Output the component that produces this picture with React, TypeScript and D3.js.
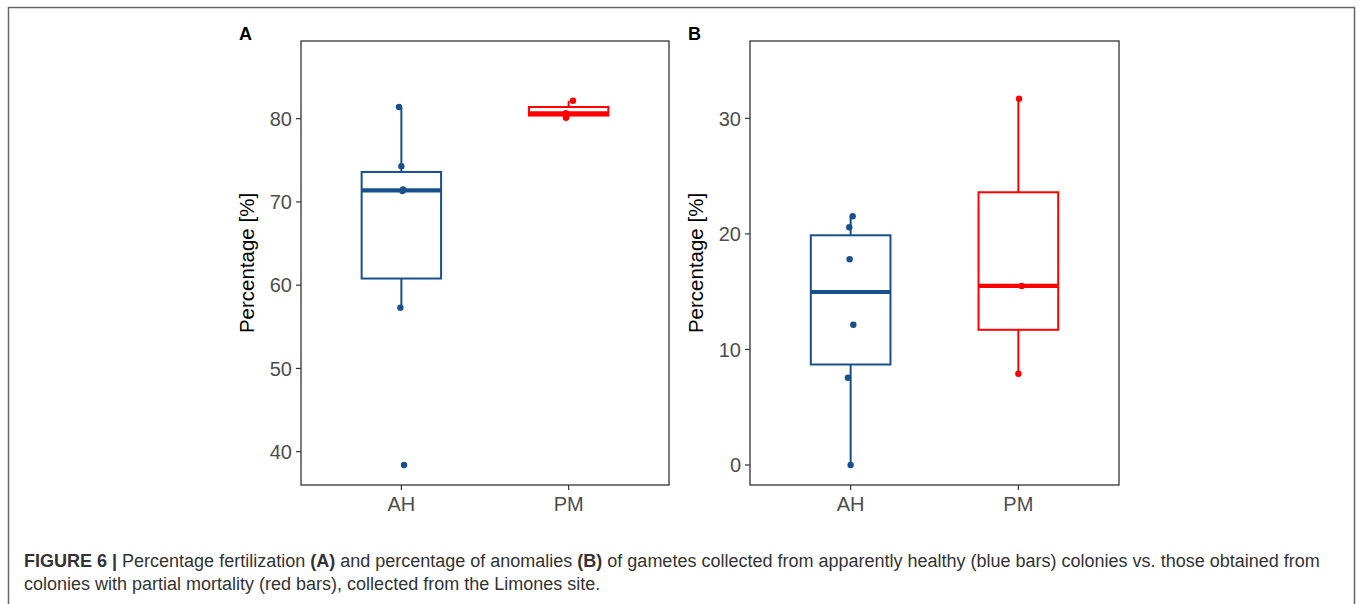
import React from "react";
import * as d3 from "d3";

// ---- data ----
const categories = ["AH", "PM"];
const fertilAH = [38.4, 57.3, 71.3, 71.5, 74.3, 81.4];
const fertilPM = [80.1, 80.65, 82.15];
const anomAH = [0, 7.55, 12.14, 17.8, 20.57, 21.52];
const anomPM = [7.9, 15.5, 31.7];
// horizontal jitter of the points, in category units
const jitterFertilAH = [0.016, -0.006, 0.006, 0.01, 0, -0.014];
const jitterFertilPM = [-0.016, -0.016, 0.026];
const jitterAnomAH = [0, -0.016, 0.016, -0.006, -0.008, 0.012];
const jitterAnomPM = [0, 0.02, 0.004];
const ticksA = [40, 50, 60, 70, 80];
const ticksB = [0, 10, 20, 30];
const domainA: [number, number] = [36.0, 89.33];
const domainB: [number, number] = [-1.73, 36.69];
const groupColors = ["#18508E", "#FF0000"];

const FONT = "'Liberation Sans', Arial, Helvetica, sans-serif";

type Group = { values: number[]; jitter: number[] };

function stats(values: number[]) {
  const s = [...values].sort((a, b) => a - b);
  const q1 = d3.quantile(s, 0.25)!;
  const med = d3.quantile(s, 0.5)!;
  const q3 = d3.quantile(s, 0.75)!;
  const iqr = q3 - q1;
  const lo = d3.min(s.filter((v) => v >= q1 - 1.5 * iqr))!;
  const hi = d3.max(s.filter((v) => v <= q3 + 1.5 * iqr))!;
  return { q1, med, q3, lo, hi };
}

function Panel({
  x0,
  x1,
  y0,
  y1,
  domain,
  ticks,
  groups,
  letter,
}: {
  x0: number;
  x1: number;
  y0: number;
  y1: number;
  domain: [number, number];
  ticks: number[];
  groups: Group[];
  letter: string;
}) {
  const y = d3.scaleLinear().domain(domain).range([y1, y0]);
  const x = d3.scaleLinear().domain([0.4, 2.6]).range([x0, x1]);
  const boxW = 0.475;
  return (
    <g>
      <text x={x0 - 62} y={40} fontFamily={FONT} fontWeight="bold" fontSize={18} fill="#000">
        {letter}
      </text>
      <rect x={x0} y={y0} width={x1 - x0} height={y1 - y0} fill="#fff" stroke="#333" strokeWidth={1.3} />
      {groups.map((g, i) => {
        const st = stats(g.values);
        const cx = x(i + 1);
        const col = groupColors[i];
        const bl = x(i + 1 - boxW / 2);
        const br = x(i + 1 + boxW / 2);
        return (
          <g key={i}>
            <line x1={cx} x2={cx} y1={y(st.q3)} y2={y(st.hi)} stroke={col} strokeWidth={2} />
            <line x1={cx} x2={cx} y1={y(st.q1)} y2={y(st.lo)} stroke={col} strokeWidth={2} />
            <rect
              x={bl}
              y={y(st.q3)}
              width={br - bl}
              height={y(st.q1) - y(st.q3)}
              fill="none"
              stroke={col}
              strokeWidth={2}
            />
            <line x1={bl} x2={br} y1={y(st.med)} y2={y(st.med)} stroke={col} strokeWidth={4.2} />
            {g.values.map((v, j) => (
              <circle key={j} cx={x(i + 1 + g.jitter[j])} cy={y(v)} r={3.2} fill={col} />
            ))}
          </g>
        );
      })}
      {ticks.map((t) => (
        <g key={t}>
          <line x1={x0 - 5} x2={x0} y1={y(t)} y2={y(t)} stroke="#333" strokeWidth={1.2} />
          <text
            x={x0 - 9}
            y={y(t)}
            dy="0.36em"
            textAnchor="end"
            fontFamily={FONT}
            fontSize={20}
            fill="#4D4D4D"
          >
            {t}
          </text>
        </g>
      ))}
      {categories.map((c, i) => (
        <g key={c}>
          <line x1={x(i + 1)} x2={x(i + 1)} y1={y1} y2={y1 + 5} stroke="#333" strokeWidth={1.2} />
          <text x={x(i + 1)} y={y1 + 26} textAnchor="middle" fontFamily={FONT} fontSize={20} fill="#4D4D4D">
            {c}
          </text>
        </g>
      ))}
      <text
        transform={`translate(${x0 - 47},${(y0 + y1) / 2}) rotate(-90)`}
        textAnchor="middle"
        fontFamily={FONT}
        fontSize={20.5}
        fill="#000"
      >
        Percentage [%]
      </text>
    </g>
  );
}

export default function App() {
  return (
    <svg
      width={1360}
      height={604}
      style={{ position: "absolute", left: 0, top: 0, display: "block" }}
      xmlns="http://www.w3.org/2000/svg"
    >
      <rect x={0} y={0} width={1360} height={604} fill="#fff" />
      <rect x={8.5} y={7.5} width={1346} height={620} fill="none" stroke="#666" strokeWidth={1.5} />
      <Panel
        x0={301}
        x1={669}
        y0={41}
        y1={485}
        domain={domainA}
        ticks={ticksA}
        letter="A"
        groups={[
          { values: fertilAH, jitter: jitterFertilAH },
          { values: fertilPM, jitter: jitterFertilPM },
        ]}
      />
      <Panel
        x0={750}
        x1={1119}
        y0={41}
        y1={485}
        domain={domainB}
        ticks={ticksB}
        letter="B"
        groups={[
          { values: anomAH, jitter: jitterAnomAH },
          { values: anomPM, jitter: jitterAnomPM },
        ]}
      />
      <text x={24} y={567} fontFamily={FONT} fontSize={18} fill="#333">
        <tspan fontWeight="bold">FIGURE 6 |</tspan>
        <tspan> Percentage fertilization </tspan>
        <tspan fontWeight="bold">(A)</tspan>
        <tspan> and percentage of anomalies </tspan>
        <tspan fontWeight="bold">(B)</tspan>
        <tspan> of gametes collected from apparently healthy (blue bars) colonies vs. those obtained from</tspan>
      </text>
      <text x={24} y={590} fontFamily={FONT} fontSize={18} fill="#333">
        colonies with partial mortality (red bars), collected from the Limones site.
      </text>
    </svg>
  );
}
